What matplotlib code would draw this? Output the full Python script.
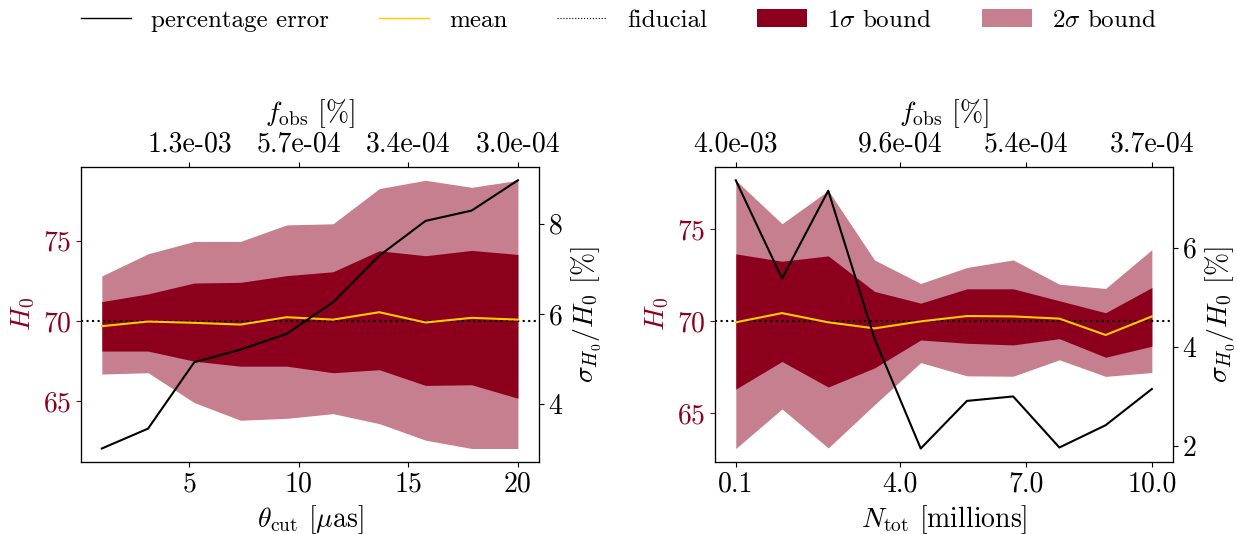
import numpy as np
import matplotlib
matplotlib.use("Agg")
from matplotlib import pyplot as plt
from matplotlib.lines import Line2D
from matplotlib.patches import Patch

plt.rcParams['font.family'] = 'serif'
plt.rcParams['font.serif'] = ['cmr10']
plt.rcParams['mathtext.fontset'] = 'cm'
plt.rcParams['axes.formatter.use_mathtext'] = True
plt.rcParams['axes.unicode_minus'] = False

# ---- panneau gauche : theta_cut ----
theta = [1.0, 3.11, 5.22, 7.33, 9.44, 11.56, 13.67, 15.78, 17.89, 20.0]
mean_L = [69.67, 69.96, 69.88, 69.77, 70.23, 70.08, 70.54, 69.90, 70.19, 70.08]
up1_L = [71.20, 71.68, 72.36, 72.40, 72.82, 73.06, 74.37, 74.06, 74.39, 74.14]
lo1_L = [68.12, 68.12, 67.49, 67.18, 67.18, 66.77, 66.96, 65.98, 66.02, 65.18]
up2_L = [72.80, 74.18, 74.95, 74.95, 75.98, 76.05, 78.24, 78.76, 78.32, 78.76]
lo2_L = [66.69, 66.77, 64.91, 63.81, 63.93, 64.22, 63.60, 62.57, 62.05, 62.05]
err_L = [3.02, 3.46, 4.93, 5.21, 5.56, 6.26, 7.29, 8.06, 8.29, 8.96]
top_ticks_L = [5, 10, 15, 20]
top_labels_L = ['1.3e-03', '5.7e-04', '3.4e-04', '3.0e-04']

# ---- panneau droit : N_tot ----
ntot = [0.1, 1.2, 2.3, 3.4, 4.5, 5.6, 6.7, 7.8, 8.9, 10.0]
mean_R = [69.93, 70.43, 69.93, 69.60, 69.98, 70.27, 70.25, 70.13, 69.24, 70.25]
up1_R = [73.65, 73.25, 73.54, 71.61, 70.97, 71.75, 71.75, 71.10, 70.45, 71.82]
lo1_R = [66.30, 67.80, 66.41, 67.45, 68.97, 68.79, 68.70, 69.04, 68.03, 68.63]
up2_R = [77.65, 75.29, 77.09, 73.32, 72.04, 72.91, 73.32, 72.00, 71.77, 73.88]
lo2_R = [63.07, 65.22, 63.10, 65.45, 67.74, 67.02, 67.00, 67.89, 66.99, 67.20]
err_R = [7.36, 5.38, 7.15, 4.17, 1.95, 2.91, 3.00, 1.97, 2.42, 3.15]
top_ticks_R = [0.1, 4.0, 7.0, 10.0]
top_labels_R = ['4.0e-03', '9.6e-04', '5.4e-04', '3.7e-04']

H0_fid = 70
red = '#8c001e'
gold = '#ffcc00'
fs = 20

fig = plt.figure(figsize=(12.37, 5.34), dpi=100)


def panel(pos, x, mean, up1, lo1, up2, lo2, err, xticks, xticklabels,
          yticks, y2ticks, top_ticks, top_labels, xlabel):
    ax = fig.add_axes(pos)
    ax.fill_between(x, lo2, up2, color=red, alpha=0.5, lw=0)
    ax.fill_between(x, lo1, up1, color=red, lw=0)
    ax.axhline(H0_fid, color='k', ls=':', lw=1.5)
    ax.plot(x, mean, color=gold, lw=1.5)
    ax.set_xticks(xticks)
    ax.set_xticklabels(xticklabels)
    ax.set_yticks(yticks)
    ax.tick_params(axis='y', colors=red, labelsize=fs)
    ax.tick_params(axis='x', labelsize=fs)
    ax.set_ylabel(r'$H_0$', color=red, fontsize=fs)
    ax.set_xlabel(xlabel, fontsize=fs)

    ax2 = ax.twinx()
    ax2.plot(x, err, color='k', lw=1.5)
    ax2.set_yticks(y2ticks)
    ax2.tick_params(labelsize=fs)
    ax2.set_ylabel(r'$\sigma_{H_0}/H_0$ [%]', fontsize=fs)

    ax3 = ax.twiny()
    ax3.set_xlim(ax.get_xlim())
    ax3.set_xticks(top_ticks)
    ax3.set_xticklabels(top_labels)
    ax3.tick_params(labelsize=fs)
    ax3.set_xlabel(r'$f_{\mathrm{obs}}$ [%]', fontsize=fs, labelpad=7)
    return ax


panel([0.0655, 0.135, 0.370, 0.5525], theta, mean_L, up1_L, lo1_L, up2_L, lo2_L, err_L,
      [5, 10, 15, 20], ['5', '10', '15', '20'], [65, 70, 75], [4, 6, 8],
      top_ticks_L, top_labels_L, r'$\theta_{\mathrm{cut}}$ [$\mu$as]')
panel([0.578, 0.135, 0.370, 0.5525], ntot, mean_R, up1_R, lo1_R, up2_R, lo2_R, err_R,
      [0.1, 4.0, 7.0, 10.0], ['0.1', '4.0', '7.0', '10.0'], [65, 70, 75], [2, 4, 6],
      top_ticks_R, top_labels_R, r'$N_{\mathrm{tot}}$ [millions]')

handles = [Line2D([], [], color='k', lw=1),
           Line2D([], [], color=gold, lw=1),
           Line2D([], [], color='k', ls=':', lw=0.8),
           Patch(color=red, lw=0),
           Patch(color=red, alpha=0.5, lw=0)]
labels = ['percentage error', 'mean', 'fiducial',
          r'1$\sigma$ bound', r'2$\sigma$ bound']
fig.legend(handles, labels, loc='upper center', bbox_to_anchor=(0.5, 1.025),
           ncol=5, frameon=False, fontsize=18, columnspacing=2.0)

fig.savefig('out.png', dpi=100)
